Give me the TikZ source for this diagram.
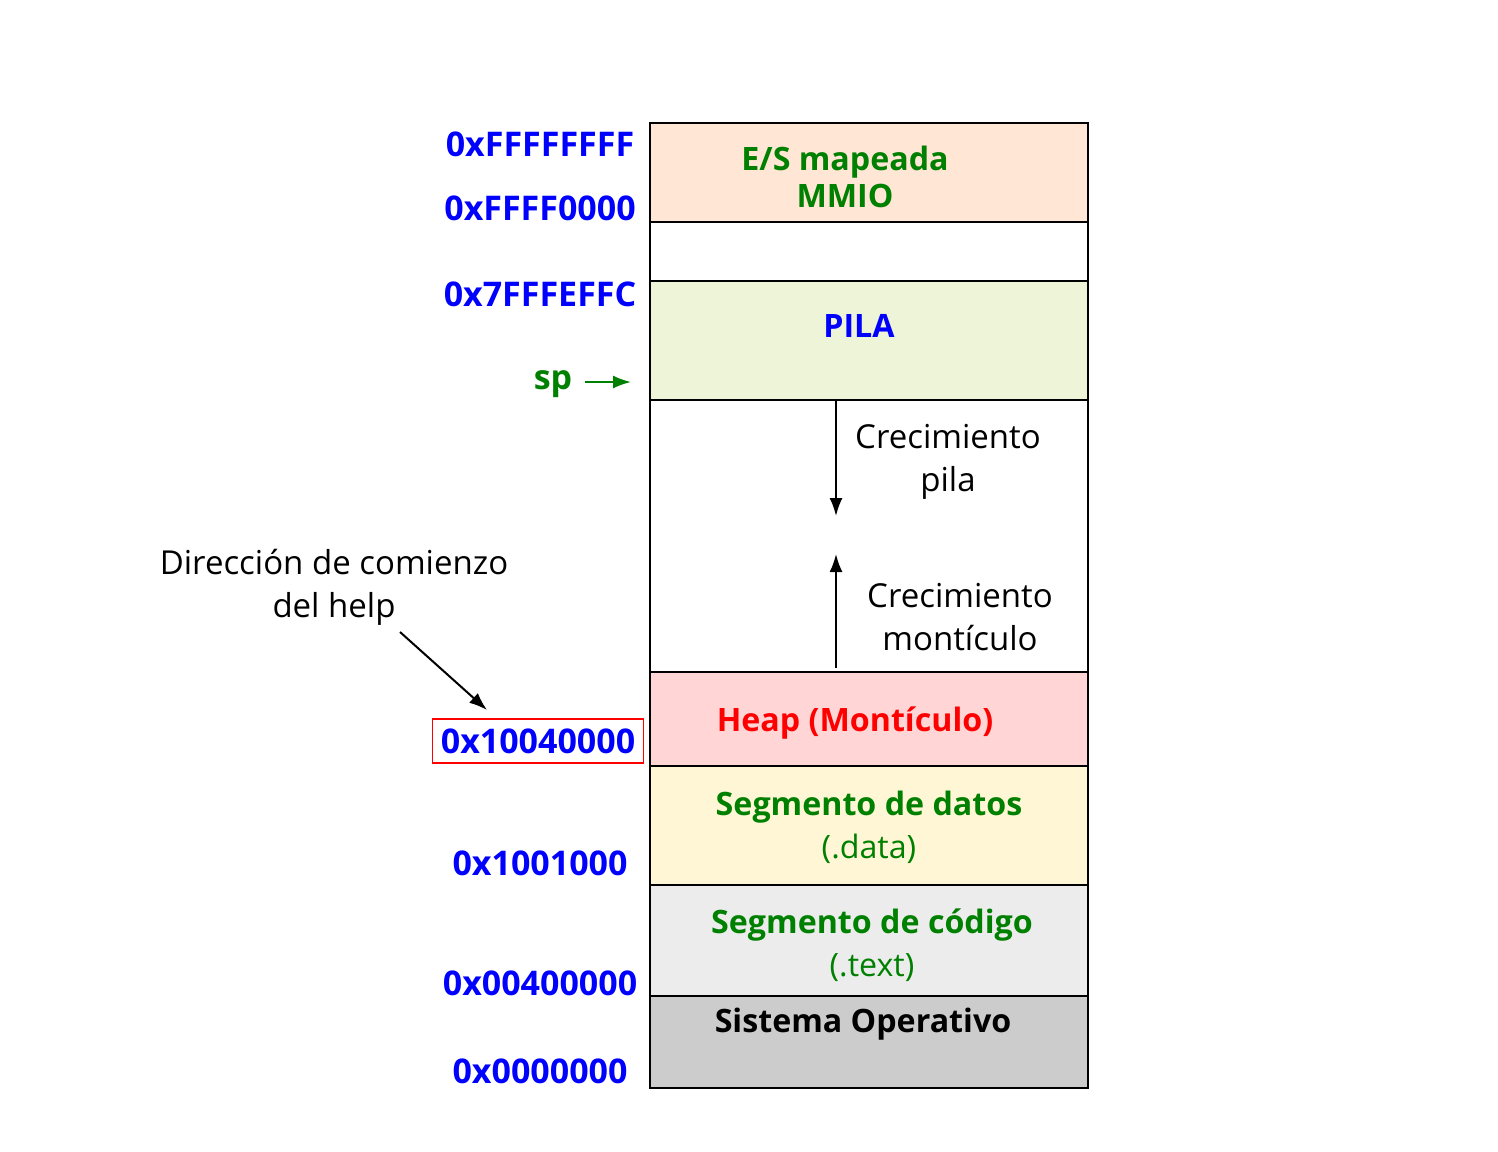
\documentclass[tikz,border=0pt]{standalone}
\usepackage{fontspec}
\setmainfont{Open Sans}
\usetikzlibrary{arrows.meta}
\definecolor{verde}{RGB}{0,128,0}
\definecolor{azul}{RGB}{0,0,255}
\definecolor{rojo}{RGB}{255,0,0}
\definecolor{cmmio}{RGB}{255,230,213}
\definecolor{cpila}{RGB}{238,244,215}
\definecolor{cheap}{RGB}{255,213,213}
\definecolor{cdatos}{RGB}{255,246,213}
\definecolor{ccodigo}{RGB}{236,236,236}
\definecolor{cso}{RGB}{204,204,204}
\begin{document}
\begin{tikzpicture}[x=0.5pt,y=-0.5pt,font=\fontsize{16.5}{21.5}\selectfont]
	\useasboundingbox (0,0) rectangle (1498,1151);
	\tikzstyle{seg}=[draw=black,line width=0.75pt]
	\tikzstyle{dir}=[text=azul,font=\fontsize{17}{21.5}\selectfont\bfseries]
	\tikzstyle{nom}=[align=center,font=\fontsize{16.1}{21.5}\selectfont\bfseries]
	\tikzstyle{crece}=[-{Latex[length=9pt,width=6.5pt]},line width=1pt]

	% segmentos de memoria
	\fill[cmmio] (650,123) rectangle (1088,222);
	\fill[cpila] (650,281) rectangle (1088,400);
	\fill[cheap] (650,672) rectangle (1088,766);
	\fill[cdatos] (650,766) rectangle (1088,885);
	\fill[ccodigo] (650,885) rectangle (1088,996);
	\fill[cso] (650,996) rectangle (1088,1088);
	\draw[seg] (650,123) rectangle (1088,1088);
	\foreach \y in {222,281,400,672,766,885,996}
		\draw[seg] (650,\y) -- (1088,\y);

	\node[nom,text=verde,font=\fontsize{16.1}{18.5}\selectfont\bfseries] (M) at (845,177) {E/S mapeada\\MMIO};
	\node[nom,text=azul] (P) at (859,326) {PILA};
	\node[align=center] (CP) at (948,462) {Crecimiento\\pila};
	\node[align=center] (CM) at (960,617) {Crecimiento\\montículo};
	\node[nom,text=rojo] (H) at (855,723) {Heap (Montículo)};
	\node[nom,font=\fontsize{16.1}{21.5}\selectfont,text=verde] (D) at (869,827) {\textbf{Segmento de datos}\\(.data)};
	\node[nom,font=\fontsize{16.1}{21.5}\selectfont,text=verde] (T) at (872,945) {\textbf{Segmento de código}\\(.text)};
	\node[nom] (S) at (863,1024) {Sistema Operativo};

	\coordinate (pa) at (836,400);
	\coordinate (pb) at (836,516);
	\coordinate (ma) at (836,668);
	\coordinate (mb) at (836,554);
	\draw[crece] (pa) -- (pb);
	\draw[crece] (ma) -- (mb);

	% direcciones
	\node[dir] (A1) at (540,144) {0xFFFFFFFF};
	\node[dir] (A2) at (540,208) {0xFFFF0000};
	\node[dir] (A3) at (540,294) {0x7FFFEFFC};
	\node[dir,text=verde] (SP) at (553,384) {sp};
	\coordinate (spf) at (631,382);
	\draw[crece,verde] (SP.east)++(6,-2) -- (spf);
	\node[dir,draw=rojo,line width=0.6pt,minimum width=105.5pt,minimum height=22pt,inner sep=0pt] (A4) at (538,741) {0x10040000};
	\node[dir] (A5) at (540,863) {0x1001000};
	\node[dir] (A6) at (540,983) {0x00400000};
	\node[dir] (A7) at (540,1071) {0x0000000};

	\node[align=center] (HL) at (334,587) {Dirección de comienzo\\del help};
	\coordinate (hla) at (400,632);
	\coordinate (hlb) at (487,710);
	\draw[crece] (hla) -- (hlb);
\end{tikzpicture}
\end{document}
